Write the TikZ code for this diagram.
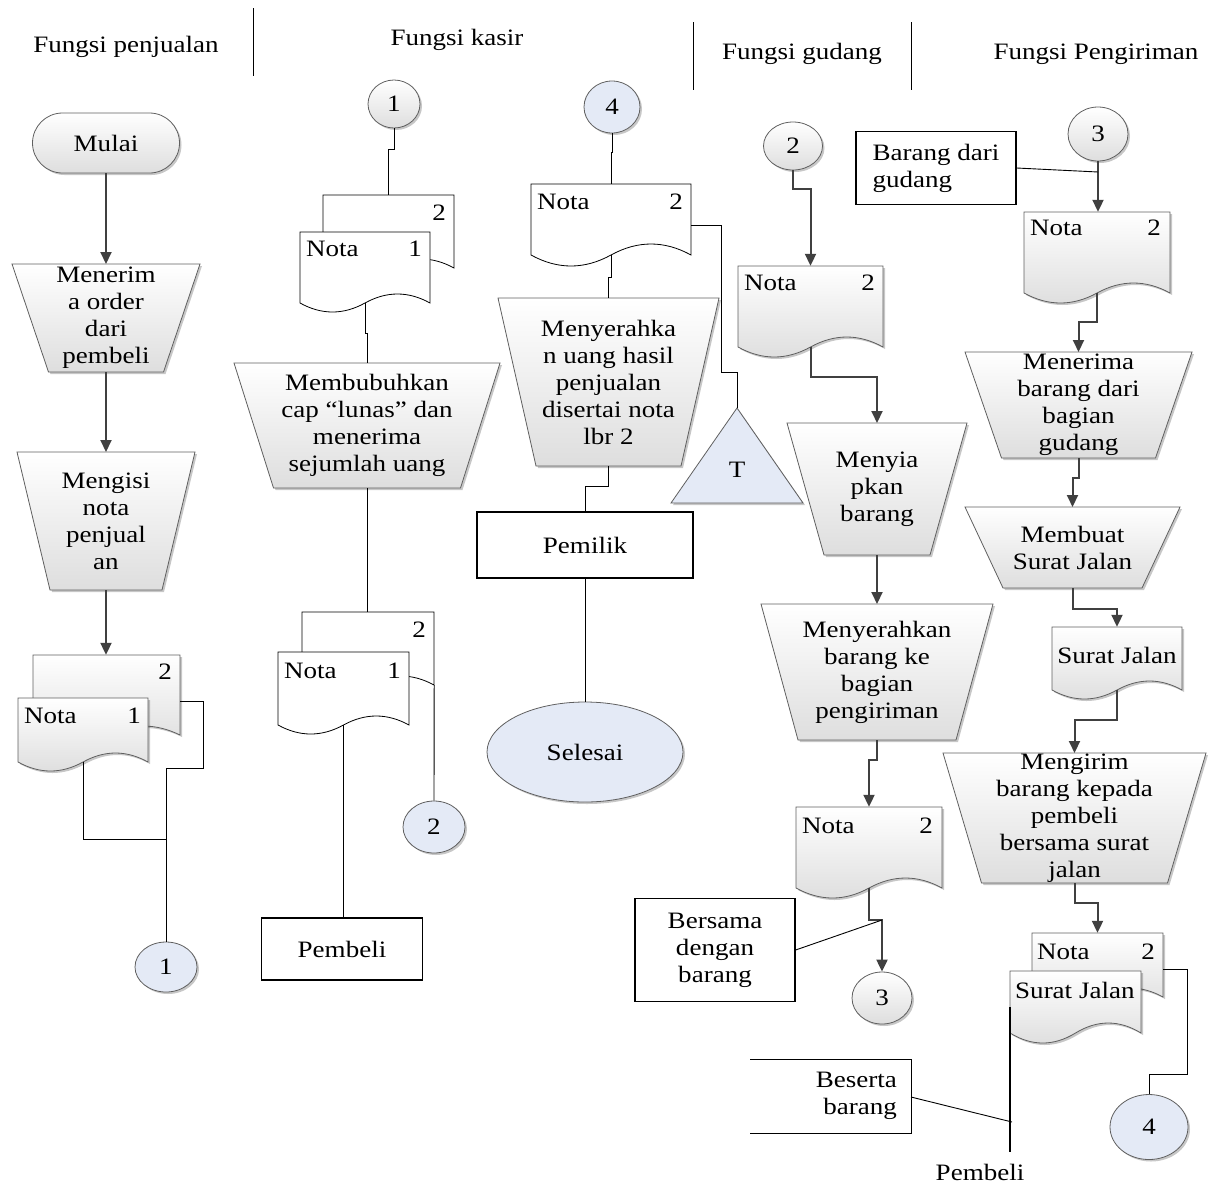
\documentclass[tikz,border=0pt]{standalone}
\usepackage{fontspec}
\setmainfont{Liberation Serif}[FakeStretch=1.15]
\usetikzlibrary{arrows.meta,shapes.geometric,shadows}
\definecolor{lblue}{RGB}{228,234,246}
\definecolor{dgray}{RGB}{64,64,64}
\definecolor{edgec}{RGB}{95,95,95}
\tikzset{
 txt/.style={font=\fontsize{23.5}{27}\selectfont, align=center, inner sep=0pt},
 shd/.style={drop shadow={shadow xshift=2pt, shadow yshift=-2pt, opacity=.22, fill=black}},
 grayfill/.style={top color=white, bottom color=black!13},
 procshape/.style={draw=edgec, line width=0.8pt, grayfill, shd},
 docg/.style={draw=edgec, line width=0.8pt, grayfill, shd},
 docw/.style={draw=black, line width=0.8pt, fill=white},
 circ/.style={ellipse, txt, draw=edgec, line width=0.8pt, shd},
 cgray/.style={circ, grayfill},
 cblue/.style={circ, fill=lblue},
 box/.style={txt, draw=black, line width=1.2pt, fill=white},
 term/.style={txt, draw=edgec, line width=0.8pt, grayfill, shd, rounded corners=30pt, minimum width=147pt, minimum height=60pt},
 arr/.style={draw=dgray, line width=2pt, -{Triangle[width=11pt,length=12pt]}},
 conn/.style={draw=black, line width=0.9pt},
 sepline/.style={draw=black, line width=1pt},
 thickln/.style={draw=black, line width=2.2pt},
 tri/.style={draw=edgec, line width=0.8pt, fill=lblue, shd}
}
\newcommand\mkproc[7]{%
 \path[procshape] ({#2-#4},#3) -- ({#2+#4},#3) -- ({#2+#6},#5) -- ({#2-#6},#5) -- cycle;
 \coordinate (#1-t) at (#2,#3);
 \coordinate (#1-b) at (#2,#5);
 \node[txt] (#1) at (#2,{(#3+#5)/2}) {#7};
}
\newcommand\mkdoc[7]{%
 \path[#7] (#2,#3) -- (#4,#3) -- (#4,#5)
   .. controls ({#4-(#4-#2)/6},{#5-4*#6/3}) and ({#4-(#4-#2)/3},{#5-4*#6/3}) .. ({(#2+#4)/2},#5)
   .. controls ({#2+(#4-#2)/3},{#5+4*#6/3}) and ({#2+(#4-#2)/6},{#5+4*#6/3}) .. (#2,#5) -- cycle;
 \pgfmathsetmacro\dW{#4-#2}\pgfmathsetmacro\dH{#5-#3}
 \node[draw=none, inner sep=0pt, minimum width=\dW pt, minimum height=\dH pt] (#1) at ({(#2+#4)/2},{(#3+#5)/2}) {};
}
\begin{document}
\begin{tikzpicture}[x=1pt,y=-1pt]
\useasboundingbox (0,0) rectangle (1210,1184);
% header
\node[txt] (h1) at (126,47) {Fungsi penjualan};
\node[txt] (h2) at (457,40) {Fungsi kasir};
\node[txt] (h3) at (802,54) {Fungsi gudang};
\node[txt] (h4) at (1096,54) {Fungsi Pengiriman};
\coordinate (s1a) at (253,8); \coordinate (s1b) at (253,76);
\coordinate (s2a) at (693,22); \coordinate (s2b) at (693,90);
\coordinate (s3a) at (911,22); \coordinate (s3b) at (911,90);
\draw[sepline] (s1a) -- (s1b);
\draw[sepline] (s2a) -- (s2b);
\draw[sepline] (s3a) -- (s3b);

% ---------- column 1
\node[term] (mulai) at (106,143) {Mulai};
\mkproc{t1}{106}{264}{94}{372}{57.5}{Menerim\\a order\\dari\\pembeli}
\mkproc{t2}{106}{452}{89}{590}{56}{Mengisi\\nota\\penjual\\an}
\mkdoc{d1b}{33}{655}{180}{735}{9}{docg}
\node[txt,anchor=east] (d1bn) at (172,672) {2};
\mkdoc{d1f}{18}{698}{148}{762}{9}{docg}
\node[txt,anchor=west] (d1fa) at (24,716) {Nota};
\node[txt,anchor=east] (d1fb) at (141,716) {1};
\node[cblue, minimum width=62pt, minimum height=50pt] (c1a) at (166,967) {1};
\draw[arr] (mulai.south) -- (t1-t);
\draw[arr] (t1-b) -- (t2-t);
\draw[arr] (t2-b) -- (t2-b |- d1b.north);
\coordinate (j1) at (203,768);
\coordinate (j2) at (166,839);
\draw[conn] ([yshift=-6pt]d1b.east) -| (j1) -| (c1a.north);
\draw[conn] (d1f.south) |- (j2);

% ---------- column 2 (kasir)
\node[cgray, minimum width=52pt, minimum height=48pt] (c1b) at (394,104) {1};
\mkdoc{d2b}{323}{195}{454}{268}{9}{docw}
\node[txt,anchor=east] (d2bn) at (446,213) {2};
\mkdoc{d2f}{300}{232}{430}{303}{9}{docw}
\node[txt,anchor=west] (d2fa) at (306,249) {Nota};
\node[txt,anchor=east] (d2fb) at (422,249) {1};
\mkproc{t3}{367}{363}{133}{488}{93.5}{Membubuhkan\\cap “lunas” dan\\menerima\\sejumlah uang}
\mkdoc{d3b}{302}{612}{434}{685}{9}{docw}
\node[txt,anchor=east] (d3bn) at (426,630) {2};
\mkdoc{d3f}{278}{652}{409}{725}{9}{docw}
\node[txt,anchor=west] (d3fa) at (284,671) {Nota};
\node[txt,anchor=east] (d3fb) at (401,671) {1};
\node[cblue, minimum width=62pt, minimum height=52pt] (c2a) at (434,827) {2};
\node[box, minimum width=161pt, minimum height=62pt] (pembeli1) at (342,949) {Pembeli};
\draw[conn] (c1b.south) -- ++(0,21) -| (d2b.north);
\draw[conn] (d2f.south) -- ++(0,30) -| (t3-t);
\draw[conn] (t3-b) -- (t3-b |- d3b.north);
\draw[conn] (d3b.south east) -- (c2a.north);
\draw[conn] (d3f.south) -- (d3f.south |- pembeli1.north);

% ---------- column 2b
\node[cblue, minimum width=56pt, minimum height=52pt] (c4a) at (612,107) {4};
\mkdoc{d4}{531}{184}{691}{255}{11}{docw}
\node[txt,anchor=west] (d4a) at (537,202) {Nota};
\node[txt,anchor=east] (d4b) at (683,202) {2};
\mkproc{t4}{608.5}{298}{110.5}{466}{72.5}{Menyerahka\\n uang hasil\\penjualan\\disertai nota\\lbr 2}
\node[box, minimum width=216pt, minimum height=66pt] (pemilik) at (585,545) {Pemilik};
\node[cblue, minimum width=196pt, minimum height=100pt] (selesai) at (585,752) {Selesai};
\path[tri] (737,408) -- (803,503) -- (671,503) -- cycle;
\coordinate (tritop) at (737,408);
\node[txt] (tlab) at (737,470) {T};
\coordinate (j3) at (721,372);
\draw[conn] (c4a.south) -- ++(0,19) -| (d4.north);
\draw[conn] (d4.south) -- ++(0,22) -| (t4-t);
\draw[conn] (t4-b) -- ++(0,20) -| (pemilik.north);
\draw[conn] (pemilik.south) -- (selesai.north);
\draw[conn] ([yshift=-6pt]d4.east) -| (j3) -| (tritop);

% ---------- column 3 (gudang)
\node[cgray, minimum width=59pt, minimum height=48pt] (c2b) at (793,146) {2};
\mkdoc{d5}{738}{266}{883}{347}{10}{docg}
\node[txt,anchor=west] (d5a) at (744,283) {Nota};
\node[txt,anchor=east] (d5b) at (875,283) {2};
\mkproc{t5}{877}{423}{90}{555}{53}{Menyia\\pkan\\barang}
\mkproc{t6}{877}{604}{116}{740}{79}{Menyerahkan\\barang ke\\bagian\\pengiriman}
\mkdoc{d6}{796}{807}{942}{888}{10}{docg}
\node[txt,anchor=west] (d6a) at (802,826) {Nota};
\node[txt,anchor=east] (d6b) at (933,826) {2};
\node[cgray, minimum width=60pt, minimum height=52pt] (c3a) at (882,998) {3};
\node[box, minimum width=160pt, minimum height=103pt] (bersama) at (715,950) {Bersama\\dengan\\barang};
\coordinate (j4) at (882,920);
\draw[arr] (c2b.south) -- ++(0,19) -| (d5.north);
\draw[arr] (d5.south) -- ++(0,30) -| (t5-t);
\draw[arr] (t5-b) -- (t6-t);
\draw[arr] (t6-b) -- ++(0,20) -| (d6.north);
\draw[arr] (d6.south) |- (j4) -- (c3a.north);
\draw[conn] (bersama.east) -- (j4);

% ---------- column 4 (pengiriman)
\node[cgray, minimum width=60pt, minimum height=54pt] (c3b) at (1098,134) {3};
\node[box, minimum width=160pt, minimum height=73pt, align=left] (bdg) at (936,168) {Barang dari\\gudang};
\mkdoc{d7}{1024}{212}{1170}{293}{10}{docg}
\node[txt,anchor=west] (d7a) at (1030,228) {Nota};
\node[txt,anchor=east] (d7b) at (1161,228) {2};
\mkproc{t7}{1078.5}{352}{113.5}{458}{77}{Menerima\\barang dari\\bagian\\gudang}
\mkproc{t8}{1072.5}{507}{107.5}{588}{69.5}{Membuat\\Surat Jalan}
\mkdoc{d8}{1052}{627}{1182}{690}{9}{docg}
\node[txt] (d8a) at (1117,655) {Surat Jalan};
\mkproc{t9}{1074.5}{753}{131.5}{883}{93}{Mengirim\\barang kepada\\pembeli\\bersama surat\\jalan}
\mkdoc{d9b}{1032}{933}{1163}{997}{9}{docg}
\node[txt,anchor=west] (d9ba) at (1037,952) {Nota};
\node[txt,anchor=east] (d9bb) at (1155,952) {2};
\mkdoc{d9f}{1010}{971}{1141}{1033}{10}{docg}
\node[txt,anchor=west] (d9fa) at (1015,990) {Surat Jalan};
\node[cblue, minimum width=78pt, minimum height=65pt] (c4b) at (1149,1127) {4};
\coordinate (j5) at (1098,172);
\coordinate (j6) at (1187,1074);
\draw[arr] (c3b.south) -- (c3b.south |- d7.north);
\draw[conn] (bdg.east) -- (j5);
\draw[arr] (d7.south) -- ++(0,29) -| (t7-t);
\draw[arr] (t7-b) -- ++(0,20) -| (t8-t);
\draw[arr] (t8-b) -- ++(0,21) -| (d8.north);
\draw[arr] (d8.south) -- ++(0,30) -| (t9-t);
\draw[arr] (t9-b) -- ++(0,20) -| (d9b.north);
\draw[conn] ([yshift=-4pt]d9b.east) -| (j6) -| (c4b.north);
% Pembeli line
\coordinate (pbt) at (1010,1007);
\coordinate (pbb) at (1010,1152);
\draw[thickln] (pbt) -- (pbb);
\node[txt] (pembeli2) at (980,1172) {Pembeli};
% Beserta barang annotation
\coordinate (bs1) at (750,1059); \coordinate (bs2) at (911,1059);
\coordinate (bs3) at (911,1133); \coordinate (bs4) at (750,1133);
\coordinate (bsm) at (911,1097); \coordinate (j7) at (1012,1122);
\draw[conn] (bs1) -- (bs2) -- (bs3) -- (bs4);
\node[txt, anchor=east, align=right] (beserta) at (897,1096) {Beserta\\barang};
\draw[conn] (bsm) -- (j7);
\end{tikzpicture}
\end{document}
